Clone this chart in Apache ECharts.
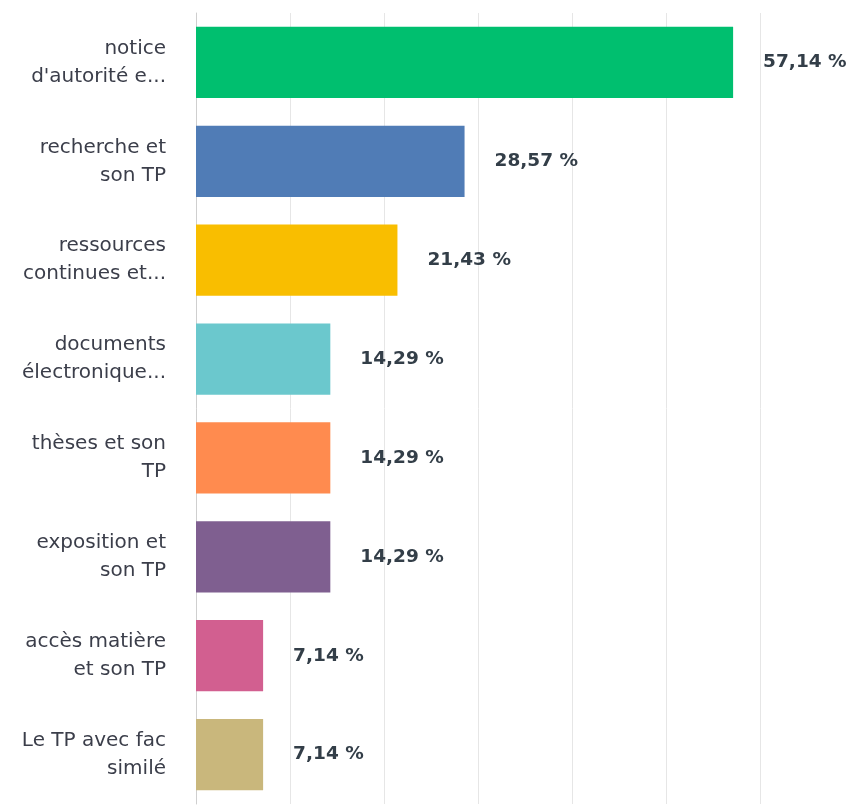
<!DOCTYPE html>
<html>
<head>
<meta charset="utf-8">
<script src="https://cdn.jsdelivr.net/npm/echarts@6/dist/echarts.min.js"></script>
<style>
  html, body { margin: 0; padding: 0; background: #fff; }
  #chart { width: 848px; height: 805px; }
</style>
</head>
<body>
<div id="chart"></div>
<script>
  // answer choices, as shown (truncated) in the survey export
  var categories = [
    "notice\nd'autorité e...",
    "recherche et\nson TP",
    "ressources\ncontinues et...",
    "documents\nélectronique...",
    "thèses et son\nTP",
    "exposition et\nson TP",
    "accès matière\net son TP",
    "Le TP avec fac\nsimilé"
  ];
  var percents = [57.14, 28.57, 21.43, 14.29, 14.29, 14.29, 7.14, 7.14];
  var colors = ['#00bf6f', '#507cb6', '#f9be00', '#6bc8cd', '#ff8b4f', '#7f5f90', '#d25f90', '#c9b77c'];

  var chart = echarts.init(document.getElementById('chart'));
  var option = {
    animation: false,
    grid: { top: 13, bottom: 1, left: 196, right: 88, containLabel: false },
    xAxis: {
      type: 'value',
      min: 0,
      max: 60,
      interval: 10,
      axisLabel: { show: false },
      axisTick: { show: false },
      axisLine: { show: false },
      splitLine: { show: true, lineStyle: { color: '#e6e6e6', width: 1 } }
    },
    yAxis: {
      type: 'category',
      inverse: true,
      data: categories,
      axisTick: { show: false },
      axisLine: { show: true, lineStyle: { color: '#cfcfcf', width: 1 } },
      axisLabel: {
        margin: 30,
        color: '#3b3e4a',
        fontSize: 20,
        lineHeight: 28,
        fontFamily: 'DejaVu Sans',
        align: 'right'
      }
    },
    series: [{
      type: 'bar',
      data: percents.map(function (v, i) {
        return { value: v, itemStyle: { color: colors[i] } };
      }),
      barCategoryGap: '28%',
      label: {
        show: true,
        position: 'right',
        distance: 30,
        color: '#333e48',
        fontSize: 18.5,
        fontWeight: 'bold',
        fontFamily: 'DejaVu Sans',
        formatter: function (p) {
          return p.value.toFixed(2).replace('.', ',') + ' %';
        }
      }
    }]
  };
  chart.setOption(option);
</script>
</body>
</html>
